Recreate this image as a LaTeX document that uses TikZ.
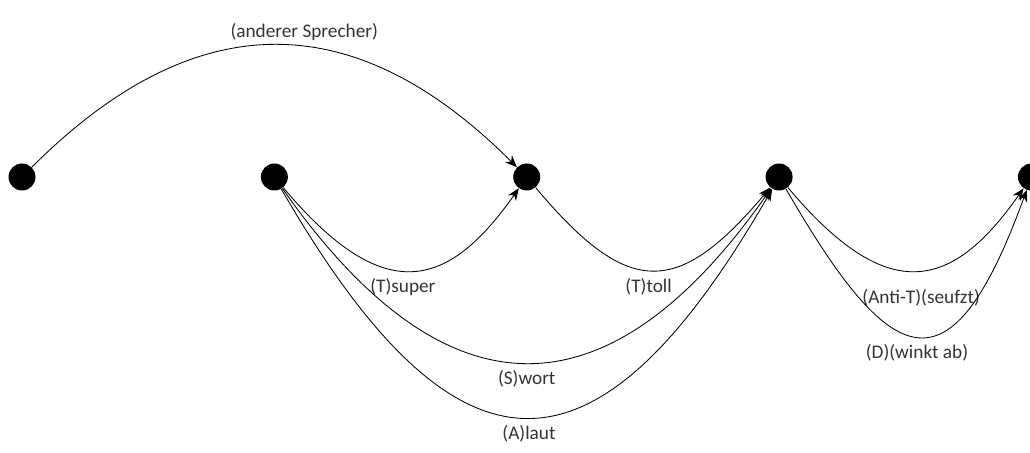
\documentclass[tikz,border=0pt]{standalone}
\usepackage{fontspec}
\setmainfont{Carlito}
\usepackage{tikz}
\usetikzlibrary{arrows.meta, positioning}

\begin{document}
\begin{tikzpicture}[
  node distance=5.62cm,
  turn/.style={circle,fill=black,minimum size=6.75mm,inner sep=0pt},
  act/.style={font=\fontsize{13.7}{16}\selectfont,text=black!80},
  move/.style={-{Stealth[length=3mm,width=2.4mm]}, line width=0.6pt},
]
\useasboundingbox (0,0) rectangle (25.75,11.325);

% turns
\node[turn] (u0) at (0.55,6.9) {};
\node[turn, right=of u0] (u1) {};
\node[turn, right=of u1] (u2) {};
\node[turn, right=of u2] (u3) {};
\node[turn, right=of u3] (u4) {};

% moves
\draw[move] (u0) .. controls +(45:6.6cm) and +(135:5.6cm) .. (u2)
  node[act, above=1pt, pos=0.54] {(anderer Sprecher)};
\draw[move] (u1) .. controls +(-50:4.25cm) and +(-125:3.45cm) .. (u2)
  node[act, below=2pt, pos=0.46] {(T)super};
\draw[move] (u2) .. controls +(-50:3.95cm) and +(-130:3.95cm) .. (u3)
  node[act, below=2pt, pos=0.48] {(T)toll};
\draw[move] (u1) .. controls +(-55:7.45cm) and +(-125:7.45cm) .. (u3)
  node[act, below=2pt, midway] {(S)wort};
\draw[move] (u1) .. controls +(-60:9.3cm) and +(-120:9cm) .. (u3)
  node[act, below=2pt, midway] {(A)laut};
\draw[move] (u3) .. controls +(-50:4.25cm) and +(-125:3.45cm) .. (u4)
  node[act, below=10pt, pos=0.52] {(Anti-T)(seufzt)};
\draw[move] (u3) .. controls +(-60:5.6cm) and +(-110:5.95cm) .. (u4)
  node[act, below=2pt, midway] {(D)(winkt ab)};

\end{tikzpicture}
\end{document}
